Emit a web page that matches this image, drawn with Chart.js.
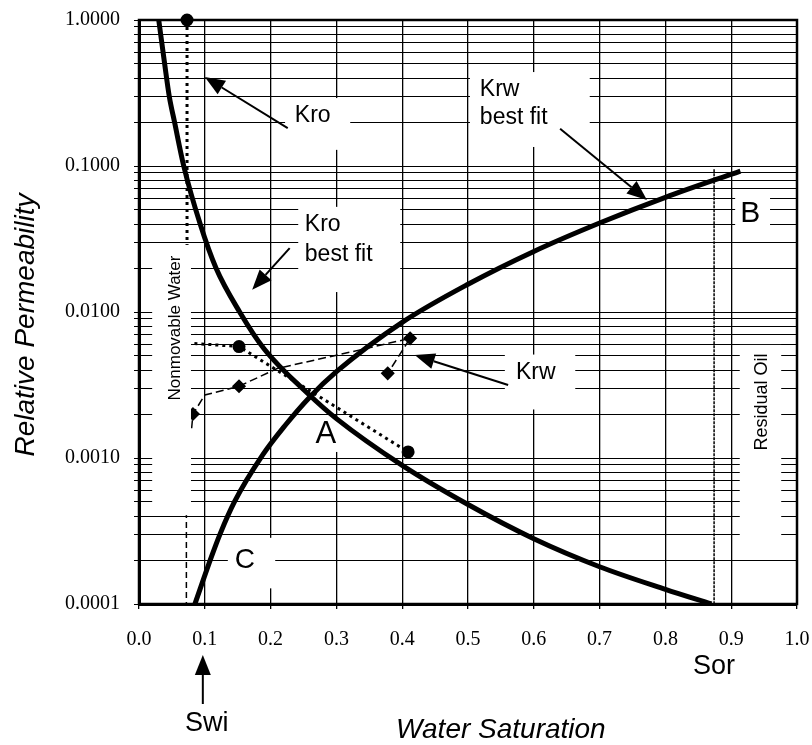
<!DOCTYPE html>
<html lang="en">
<head>
<meta charset="UTF-8">
<title>Relative Permeability vs Water Saturation</title>
<script src="https://cdn.jsdelivr.net/npm/chart.js@4"></script>
<style>
    html, body { margin: 0; padding: 0; background: #fff; }
    canvas { display: block; }
</style>
</head>
<body>
<canvas id="relPermChart" width="812" height="745"></canvas>
<script>
    // Best fit curves (water saturation, relative permeability)
    const kroFitSw = [0.03, 0.039, 0.046, 0.054, 0.068, 0.093, 0.117, 0.153, 0.19, 0.259, 0.3, 0.4, 0.5, 0.6, 0.7, 0.8, 0.87];
    const kroFitK  = [1.0, 0.5, 0.3, 0.2, 0.1, 0.04, 0.02, 0.01, 0.0056, 0.0027, 0.00186, 0.00089, 0.00048, 0.00028, 0.00018, 0.000126, 0.0001];
    const krwFitSw = [0.085, 0.11, 0.123, 0.145, 0.188, 0.222, 0.259, 0.3, 0.4, 0.5, 0.6, 0.7, 0.8, 0.914];
    const krwFitK  = [0.0001, 0.00021, 0.0003, 0.0005, 0.00105, 0.00167, 0.0026, 0.0039, 0.0085, 0.0155, 0.026, 0.0407, 0.061, 0.0923];

    // Lab points (marker shown where flag is 1)
    const kroLabSw   = [0.073, 0.073, 0.082, 0.152, 0.409];
    const kroLabK    = [1.0, 0.0063, 0.0061, 0.0058, 0.0011];
    const kroLabMark = [1, 0, 0, 1, 1];
    const krwLabSw   = [0.08, 0.082, 0.1, 0.152, 0.21, 0.32, 0.412, 0.378];
    const krwLabK    = [0.0016, 0.002, 0.0027, 0.0031, 0.0041, 0.0053, 0.0066, 0.0038];
    const krwLabMark = [0, 1, 0, 1, 0, 0, 1, 1];

    // Reference lines
    const residualOilSw = [0.874, 0.874];
    const residualOilK  = [0.095, 0.0001];
    const swiLineSw = [0.072, 0.072];
    const swiLineK  = [0.0005, 0.0001];

    // Axis ticks
    const decades = [1, 0.1, 0.01, 0.001, 0.0001];
    const yTickLabels = ['1.0000', '0.1000', '0.0100', '0.0010', '0.0001'];
    const xTickLabels = ['0.0', '0.1', '0.2', '0.3', '0.4', '0.5', '0.6', '0.7', '0.8', '0.9', '1.0'];

    const sans = "'Liberation Sans', Arial, sans-serif";
    const serif = "'Liberation Serif', 'Times New Roman', serif";

    // Text notes placed in data units [Sw, k]
    const notes = [
        { t: 'Kro', sw: 0.264, k: 0.22, size: 23, align: 'center' },
        { t: 'Krw', sw: 0.518, k: 0.332, size: 23, align: 'left' },
        { t: 'best fit', sw: 0.518, k: 0.213, size: 23, align: 'left' },
        { t: 'Kro', sw: 0.252, k: 0.0394, size: 23, align: 'left' },
        { t: 'best fit', sw: 0.252, k: 0.0246, size: 23, align: 'left' },
        { t: 'Krw', sw: 0.603, k: 0.00382, size: 23, align: 'center' },
        { t: 'A', sw: 0.284, k: 0.00144, size: 31, align: 'center' },
        { t: 'B', sw: 0.929, k: 0.0469, size: 30, align: 'center' },
        { t: 'C', sw: 0.161, k: 0.0002, size: 28, align: 'center' },
        { t: 'Nonmovable Water', sw: 0.055, k: 0.00777, size: 17, align: 'center', rotate: true },
        { t: 'Residual Oil', sw: 0.947, k: 0.00242, size: 18, align: 'center', rotate: true }
    ];

    // White boxes behind the notes [sw0, sw1, kTop, kBottom]
    const noteBoxes = [
        [0.222, 0.321, 0.292, 0.129],
        [0.503, 0.685, 0.44, 0.135],
        [0.242, 0.397, 0.0525, 0.0137],
        [0.556, 0.663, 0.00511, 0.00215],
        [0.263, 0.309, 0.00188, 0.0011],
        [0.906, 0.959, 0.0605, 0.0364],
        [0.135, 0.207, 0.000284, 0.000128],
        [0.913, 0.976, 0.00595, 0.000274]
    ];
    const nonmovableBox = [0.02, 0.079, 0.0288, 0.000406];

    // Arrows [from, to] in data units
    const pointers = [
        { from: [0.226, 0.182], to: [0.100, 0.407] },
        { from: [0.64, 0.18], to: [0.772, 0.0585] },
        { from: [0.229, 0.0274], to: [0.172, 0.0142] },
        { from: [0.561, 0.00316], to: [0.419, 0.00507] }
    ];

    const toPts = (xs, ys) => xs.map((x, i) => ({ x: x, y: ys[i] }));

    function fillBox(ctx, xs, ys, b) {
        const x0 = xs.getPixelForValue(b[0]), x1 = xs.getPixelForValue(b[1]);
        const y0 = ys.getPixelForValue(b[2]), y1 = ys.getPixelForValue(b[3]);
        ctx.fillRect(x0, y0, x1 - x0, y1 - y0);
    }

    function arrow(ctx, x0, y0, x1, y1, head, half) {
        const ang = Math.atan2(y1 - y0, x1 - x0);
        const bx = x1 - head * Math.cos(ang), by = y1 - head * Math.sin(ang);
        ctx.lineWidth = 2;
        ctx.beginPath();
        ctx.moveTo(x0, y0);
        ctx.lineTo(bx, by);
        ctx.stroke();
        ctx.beginPath();
        ctx.moveTo(x1, y1);
        ctx.lineTo(bx + half * Math.sin(ang), by - half * Math.cos(ang));
        ctx.lineTo(bx - half * Math.sin(ang), by + half * Math.cos(ang));
        ctx.closePath();
        ctx.fill();
    }

    const annotate = {
        id: 'annotate',
        beforeDatasetsDraw(chart) {
            const { ctx, scales: { x, y } } = chart;
            ctx.save();
            ctx.fillStyle = '#fff';
            noteBoxes.forEach(b => fillBox(ctx, x, y, b));
            ctx.restore();
        },
        afterDatasetsDraw(chart) {
            const { ctx, chartArea: a, scales: { x, y } } = chart;
            ctx.save();
            ctx.fillStyle = '#fff';
            fillBox(ctx, x, y, nonmovableBox);

            ctx.strokeStyle = '#000';
            ctx.lineWidth = 2.5;
            ctx.strokeRect(a.left, a.top, a.right - a.left, a.bottom - a.top);

            ctx.fillStyle = '#000';
            ctx.textBaseline = 'middle';
            notes.forEach(n => {
                const px = x.getPixelForValue(n.sw), py = y.getPixelForValue(n.k);
                ctx.font = n.size + 'px ' + sans;
                ctx.textAlign = n.align;
                if (n.rotate) {
                    ctx.save();
                    ctx.translate(px, py);
                    ctx.rotate(-Math.PI / 2);
                    ctx.fillText(n.t, 0, 0);
                    ctx.restore();
                } else {
                    ctx.fillText(n.t, px, py);
                }
            });

            pointers.forEach(p => arrow(ctx,
                x.getPixelForValue(p.from[0]), y.getPixelForValue(p.from[1]),
                x.getPixelForValue(p.to[0]), y.getPixelForValue(p.to[1]), 20, 8));
            ctx.restore();
        },
        afterDraw(chart) {
            const { ctx, chartArea: a, scales: { x } } = chart;
            ctx.save();
            ctx.fillStyle = '#000';
            ctx.strokeStyle = '#000';

            // Swi marker under the axis
            const swiX = x.getPixelForValue(0.097);
            arrow(ctx, swiX, a.bottom + 100, swiX, a.bottom + 51, 20, 8);

            ctx.textAlign = 'center';
            ctx.textBaseline = 'middle';
            ctx.font = '27px ' + sans;
            ctx.fillText('Swi', x.getPixelForValue(0.103), a.bottom + 120);
            ctx.fillText('Sor', x.getPixelForValue(0.874), a.bottom + 63);

            ctx.font = 'italic 28px ' + sans;
            ctx.fillText('Water Saturation', x.getPixelForValue(0.55), a.bottom + 126);

            ctx.textBaseline = 'alphabetic';
            ctx.translate(34, a.top + 305);
            ctx.rotate(-Math.PI / 2);
            ctx.fillText('Relative Permeability', 0, 0);
            ctx.restore();
        }
    };

    new Chart(document.getElementById('relPermChart'), {
        type: 'line',
        data: {
            datasets: [
                {
                    label: 'Kro best fit',
                    data: toPts(kroFitSw, kroFitK),
                    borderColor: '#000',
                    borderWidth: 5,
                    pointRadius: 0,
                    cubicInterpolationMode: 'monotone'
                },
                {
                    label: 'Krw best fit',
                    data: toPts(krwFitSw, krwFitK),
                    borderColor: '#000',
                    borderWidth: 5,
                    pointRadius: 0,
                    cubicInterpolationMode: 'monotone'
                },
                {
                    label: 'Kro',
                    data: toPts(kroLabSw, kroLabK),
                    borderColor: '#000',
                    borderWidth: 3,
                    borderDash: [3, 4],
                    pointStyle: 'circle',
                    pointRadius: kroLabMark.map(m => m ? 5 : 0),
                    pointBackgroundColor: '#000',
                    pointBorderColor: '#000',
                    tension: 0,
                    clip: false
                },
                {
                    label: 'Krw',
                    data: toPts(krwLabSw, krwLabK),
                    borderColor: '#000',
                    borderWidth: 1.5,
                    borderDash: [8, 4],
                    pointStyle: 'rectRot',
                    pointRadius: krwLabMark.map(m => m ? 6 : 0),
                    pointBackgroundColor: '#000',
                    pointBorderColor: '#000',
                    tension: 0
                },
                {
                    label: 'Residual Oil',
                    data: toPts(residualOilSw, residualOilK),
                    borderColor: '#000',
                    borderWidth: 1.5,
                    borderDash: [3, 1],
                    pointRadius: 0
                },
                {
                    label: 'Swi',
                    data: toPts(swiLineSw, swiLineK),
                    borderColor: '#000',
                    borderWidth: 1.5,
                    borderDash: [6, 4],
                    pointRadius: 0
                }
            ]
        },
        options: {
            responsive: false,
            animation: false,
            devicePixelRatio: 1,
            layout: { padding: { top: 20, right: 15, left: 0, bottom: 0 } },
            plugins: {
                legend: { display: false },
                tooltip: { enabled: false }
            },
            scales: {
                x: {
                    type: 'linear',
                    min: 0,
                    max: 1,
                    afterFit(scale) {
                        scale.height = 141;
                        scale.paddingLeft = 0;
                        scale.paddingRight = 0;
                    },
                    ticks: {
                        stepSize: 0.1,
                        padding: 19,
                        color: '#000',
                        font: { family: serif, size: 20 },
                        callback: (v, i) => xTickLabels[i]
                    },
                    grid: { color: '#000', lineWidth: 1.3, tickLength: 5 },
                    border: { color: '#000', width: 3 }
                },
                y: {
                    type: 'logarithmic',
                    min: 0.0001,
                    max: 1,
                    afterFit(scale) {
                        scale.width = 139;
                        scale.paddingTop = 0;
                        scale.paddingBottom = 0;
                    },
                    afterBuildTicks(scale) {
                        const ticks = [];
                        for (let e = -4; e < 0; e++) {
                            for (let m = 1; m < 10; m++) {
                                ticks.push({ value: +(m * Math.pow(10, e)).toPrecision(3) });
                            }
                        }
                        ticks.push({ value: 1 });
                        scale.ticks = ticks;
                    },
                    ticks: {
                        autoSkip: false,
                        padding: 14,
                        color: '#000',
                        font: { family: serif, size: 20 },
                        callback: (v) => {
                            const i = decades.indexOf(v);
                            return i >= 0 ? yTickLabels[i] : '';
                        }
                    },
                    grid: { color: '#000', lineWidth: 1, tickLength: 5 },
                    border: { color: '#000', width: 3 }
                }
            }
        },
        plugins: [annotate]
    });
</script>
</body>
</html>
